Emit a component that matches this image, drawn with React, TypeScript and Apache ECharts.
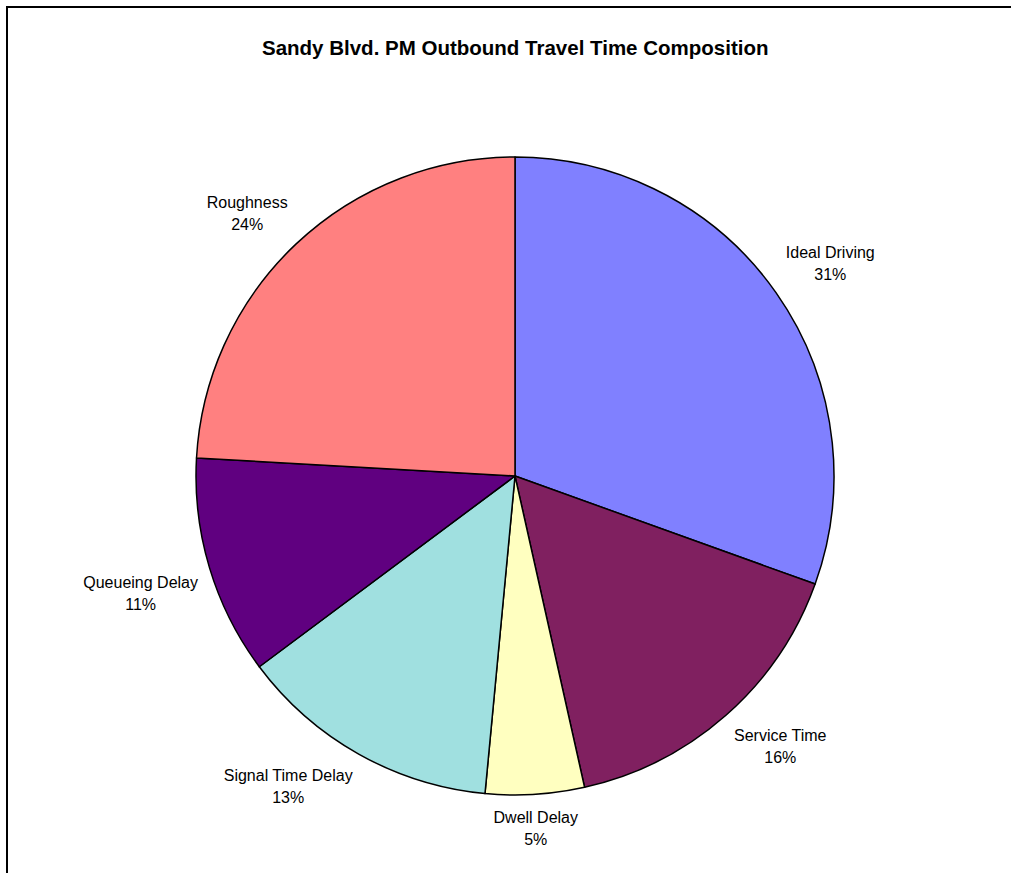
import React, { useEffect, useRef } from "react";
import * as echarts from "echarts";

const titleText = "Sandy Blvd. PM Outbound Travel Time Composition";
const categories = [
  "Ideal Driving",
  "Service Time",
  "Dwell Delay",
  "Signal Time Delay",
  "Queueing Delay",
  "Roughness",
];
const values = [30.5, 16.0, 5.0, 13.3, 11.1, 24.1];
const colors = ["#8080FF", "#802060", "#FFFFC0", "#A0E0E0", "#600080", "#FF8080"];

const CX = 507;
const CY = 468;
const R = 319;
const GAP = 12;

export default function App() {
  const ref = useRef<HTMLDivElement>(null);
  useEffect(() => {
    if (!ref.current) return;
    const chart = echarts.init(ref.current, null, { renderer: "svg" });
    const total = values.reduce((a, b) => a + b, 0);
    let acc = 0;
    const mids = values.map((v) => {
      const m = ((acc + v / 2) / total) * Math.PI * 2;
      acc += v;
      return m;
    });
    chart.setOption({
      animation: false,
      backgroundColor: "#ffffff",
      title: {
        text: titleText,
        left: 249,
        top: 24,
        textStyle: {
          fontFamily: "'Liberation Sans', Arial, sans-serif",
          fontSize: 20.5,
          fontWeight: "bold",
          color: "#000",
        },
      },
      series: [
        {
          type: "pie",
          center: [CX, CY],
          radius: R,
          startAngle: 90,
          clockwise: true,
          percentPrecision: 0,
          avoidLabelOverlap: false,
          itemStyle: { borderColor: "#000", borderWidth: 1.5 },
          emphasis: { disabled: true },
          label: {
            show: true,
            position: "outside",
            formatter: "{b}\n{d}%",
            fontFamily: "'Liberation Sans', Arial, sans-serif",
            fontSize: 16,
            lineHeight: 22,
            color: "#000",
            align: "center",
          },
          labelLine: { show: false },
          labelLayout: (p: any) => {
            const m = mids[p.dataIndex];
            const ux = Math.sin(m);
            const uy = -Math.cos(m);
            const w = p.labelRect.width;
            const h = p.labelRect.height;
            const d = R + GAP;
            const fx = Math.abs(ux) < 0.15 ? 0 : Math.sign(ux);
            const fy = Math.abs(uy) < 0.15 ? 0 : Math.sign(uy);
            return {
              x: CX + ux * d + (fx * w) / 2,
              y: CY + uy * d + (fy * h) / 2,
              align: "center",
              verticalAlign: "middle",
            };
          },
          data: categories.map((name, i) => ({
            name,
            value: values[i],
            itemStyle: { color: colors[i] },
          })),
        },
      ],
    });
    return () => chart.dispose();
  }, []);
  return (
    <div
      style={{
        position: "absolute",
        left: 6,
        top: 6,
        width: 1003,
        height: 865,
        borderLeft: "2px solid #000",
        borderTop: "2px solid #000",
        overflow: "hidden",
      }}
    >
      <div ref={ref} style={{ width: 1003, height: 865 }} />
    </div>
  );
}
